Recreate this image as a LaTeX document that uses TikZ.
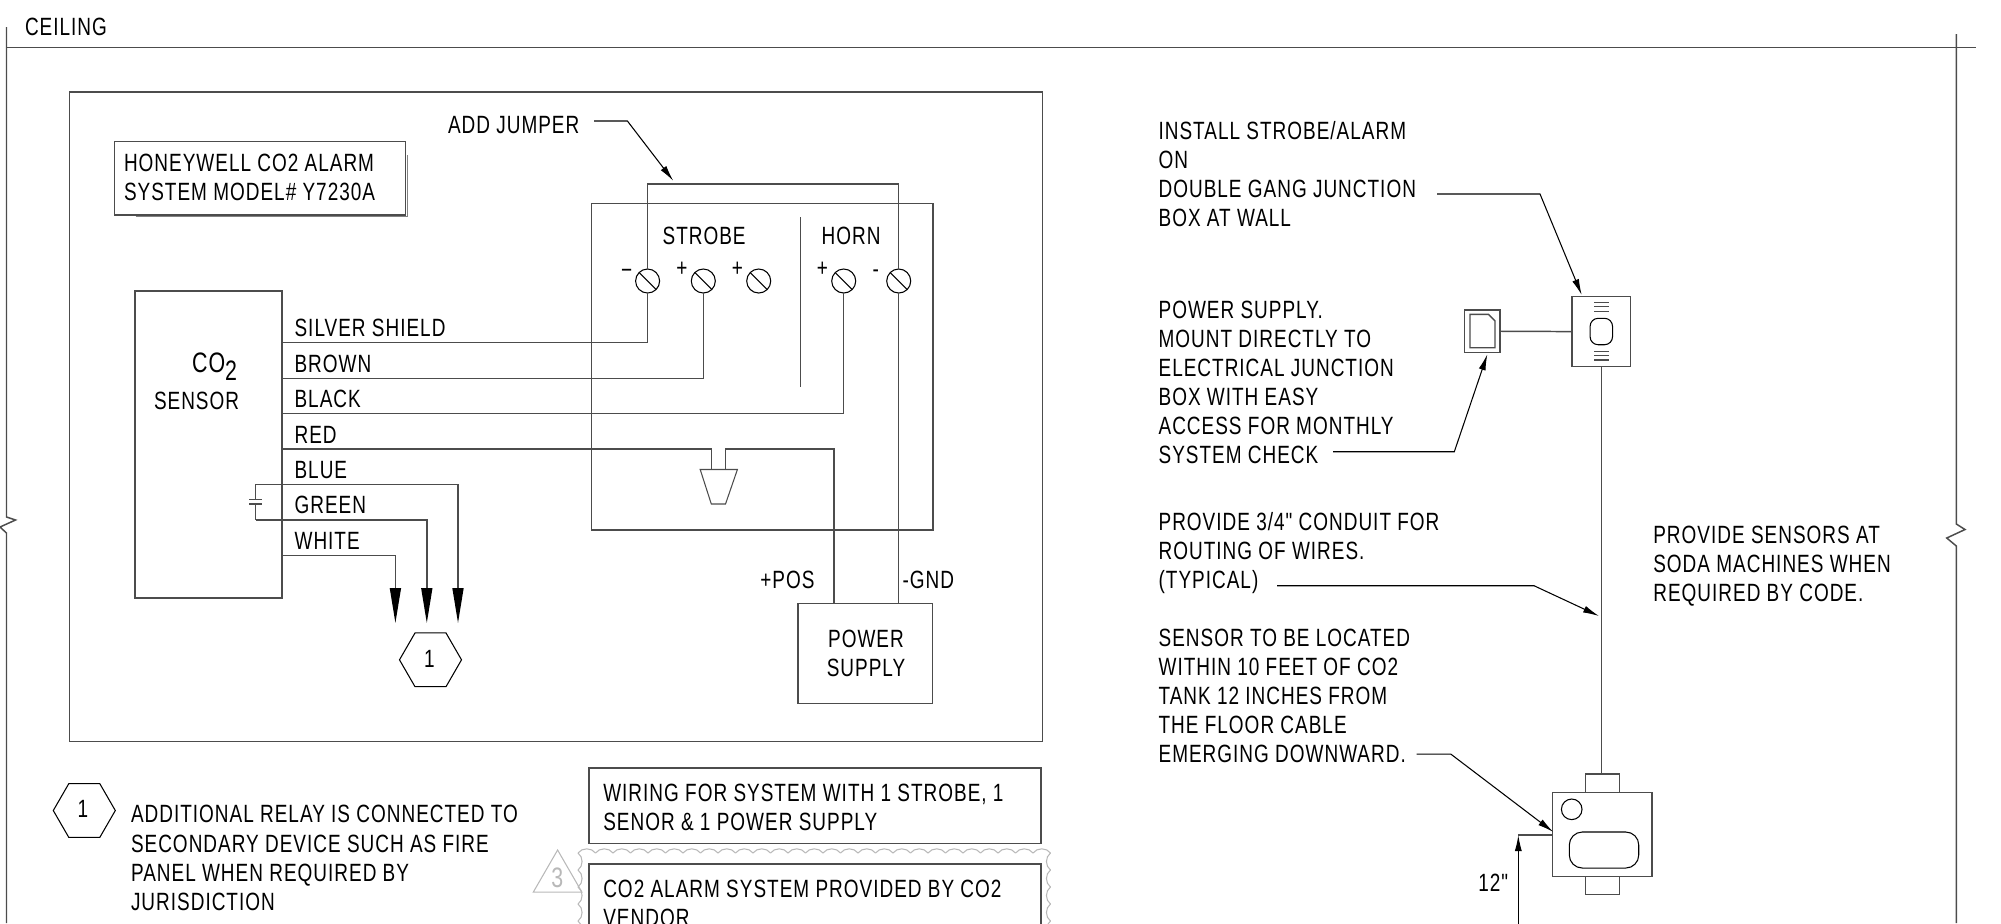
\documentclass[tikz,border=0pt]{standalone}
\usepackage{fontspec}
\setmainfont[FakeStretch=0.76,LetterSpace=4,Ligatures=TeXOff]{Liberation Sans}
\usepackage{tikz}
\usetikzlibrary{shapes, arrows.meta, positioning, calc}
\newcommand{\dwgfont}{\fontsize{7.1}{8.25}\selectfont}
\definecolor{dwgline}{gray}{0.3}
\definecolor{dwgfade}{gray}{0.72}
\tikzstyle{wire} = [draw=dwgline, line width=0.42pt]
\tikzstyle{box} = [rectangle, draw=dwgline, line width=0.42pt, inner sep=0pt, outer sep=0pt]
\tikzstyle{note} = [anchor=base west, align=left, inner sep=0pt, outer sep=0pt]
\tikzstyle{screw} = [circle, draw=black, line width=0.3pt, minimum size=0.24cm, inner sep=0pt, outer sep=0pt]
\tikzstyle{hexa} = [regular polygon, regular polygon sides=6, draw=black, line width=0.3pt, minimum size=0.62cm, inner sep=0pt, outer sep=0pt]
\tikzstyle{leader} = [draw=black, line width=0.3pt, -{Latex[length=0.16cm,width=0.07cm]}]
\tikzstyle{drop} = [wire, -{Triangle[length=0.35cm,width=0.11cm,color=black]}]
\tikzstyle{cloudline} = [draw=dwgfade, line width=0.3pt]

\begin{document}
\begin{tikzpicture}[x=0.01cm, y=-0.01cm, every node/.style={font=\dwgfont}]
\useasboundingbox (0,0) rectangle (2001,923);
\clip (0,0) rectangle (2001,923);
% room
\coordinate (ceilL) at (6.5,47.5);
\coordinate (ceilR) at (1976,47.5);
\draw[wire, line width=0.55pt] (ceilL) -- (ceilR);
\draw[wire] (6.5,27) -- (6.5,517) -- (15.5,520) -- (0,527) -- (6.5,533) -- (6.5,923);
\draw[wire] (1956.3,34) -- (1956.3,524) -- (1965,529.5) -- (1946.7,538) -- (1956.3,546) -- (1956.3,923);
\node (ceiling) [note] at (25,35) {CEILING};
% wiring frame
\node (frame) [box, minimum width=9.72cm, minimum height=6.49cm] at (556,416.75) {};
\draw[wire, draw=dwgline!70] (135.7,216.7) -- (407.5,216.7) -- (407.5,155);
\node (modelbox) [box, fill=white, minimum width=2.91cm, minimum height=0.735cm] at (260.15,178.35) {};
\node (model) [note] at (124,200) {HONEYWELL CO2 ALARM\\SYSTEM MODEL\# Y7230A};
% sensor
\node (sensor) [box, minimum width=1.47cm, minimum height=3.064cm] at (208.5,444.5) {};
\node (co) [note] at (192,372) {\fontsize{8}{9}\selectfont CO\raisebox{-0.08cm}{2}};
\node (sensortxt) [note] at (154,409) {SENSOR};
\foreach \wname/\wtext/\wy in {silver/SILVER SHIELD/342.7, brown/BROWN/378.3, black/BLACK/413.5, red/RED/449, white/WHITE/555.3} {
  \coordinate (\wname) at (282,\wy);
  \node (\wname txt) [note] at (294.6,\wy-6) {\wtext};
}
\coordinate (blue) at (255.7,484.3);
\coordinate (green) at (255.7,520);
\node (bluetxt) [note] at (294.6,478.3) {BLUE};
\node (greentxt) [note] at (294.6,513.5) {GREEN};
% strobe / horn
\node (alarm) [box, minimum width=3.413cm, minimum height=3.266cm] at (762.05,366.8) {};
\node (strobetxt) [note] at (662.6,244.8) {STROBE};
\node (horntxt) [note] at (821.6,244.8) {HORN};
\foreach \tname/\tx in {termA/647.6, termB/703.3, termC/758.7, termD/843.7, termE/898.7} {
  \node (\tname) [screw] at (\tx,281) {};
  \draw[line width=0.3pt] (\tname.north west) -- (\tname.south east);
}
\node (minusA) [note, anchor=base] at (626.6,278) {\textminus};
\node (plusB) [note, anchor=base] at (682,276) {+};
\node (plusC) [note, anchor=base] at (737.4,276) {+};
\node (plusD) [note, anchor=base] at (822.4,276) {+};
\node (minusE) [note, anchor=base] at (875.7,277) {-};
\coordinate (divtop) at (800.6,217.4);
\coordinate (divbot) at (800.6,386.6);
\draw[wire] (divtop) -- (divbot);
\coordinate (jumper) at (700,183.8);
\draw[wire] (termA) -- (termA |- jumper) -- (termE |- jumper) -- (termE);
% horn symbol
\coordinate (hornL) at (711.3,469.5);
\coordinate (hornR) at (725.3,469.5);
\draw[line width=0.3pt, draw=dwgline] (700.2,469.5) -- (737.4,469.5) -- (725.5,504) -- (711.3,504) -- cycle;
% power supply
\node (power) [box, minimum width=1.349cm, minimum height=1.0cm] at (865.25,653.4) {};
\node (powertxt) [note, anchor=base, align=center] at (866,676.6) {POWER\\SUPPLY};
\node (postxt) [note] at (760.3,588) {+POS};
\node (gndtxt) [note] at (902.6,588) {-GND};
% wires
\draw[wire] (silver) -| (termA);
\draw[wire] (brown) -| (termB);
\draw[wire] (black) -| (termD);
\draw[wire] (red) -| (hornL);
\coordinate (poswire) at (834.2,603);
\draw[wire] (hornR) |- (poswire |- red) -- (poswire);
\coordinate (gndwire) at (898.7,603);
\draw[wire] (termE) -- (gndwire);
% relay outputs
\node (relay) [hexa] at (430.5,659.8) {};
\node (relaytxt) [anchor=center, inner sep=0pt] at (429.3,659) {1};
\coordinate (capA) at (255.7,499.3);
\coordinate (capB) at (255.7,504);
\draw[wire] (capA) -- (blue);
\draw[wire] (capB) -- (green);
\draw[wire] (249,499.3) -- (261.8,499.3);
\draw[wire] (249,504) -- (261.8,504);
\draw[drop] (blue) -| (458,623);
\draw[drop] (green) -| (426.8,623);
\draw[drop] (white) -| (395.4,623);
% add jumper
\node (jumpertxt) [note] at (448,133.7) {ADD JUMPER};
\coordinate (jumperA) at (594,121);
\coordinate (jumperB) at (627.4,121);
\coordinate (jumperC) at (673.3,180.8);
\draw[leader] (jumperA) -- (jumperB) -- (jumperC);
% legend
\node (legendhex) [hexa] at (84.3,810.5) {};
\node (legendnum) [anchor=center, inner sep=0pt] at (83,809.3) {1};
\node (legendtxt) [note] at (131,910) {ADDITIONAL RELAY IS CONNECTED TO\\SECONDARY DEVICE SUCH AS FIRE\\PANEL WHEN REQUIRED BY\\JURISDICTION};
\node (wiringbox) [box, minimum width=4.518cm, minimum height=0.753cm] at (815.1,805.65) {};
\node (wiringtxt) [note] at (603.3,830) {WIRING FOR SYSTEM WITH 1 STROBE, 1\\SENOR \& 1 POWER SUPPLY};
% revision cloud
\foreach \i in {0,...,26} {
  \draw[cloudline] (578+\i*17.5,853) to[bend left=55] (595.5+\i*17.5,853);
}
\foreach \i in {0,...,4} {
  \draw[cloudline] (578,870+\i*17) to[bend right=55] (578,853+\i*17);
  \draw[cloudline] (1050.5,853+\i*17) to[bend right=55] (1050.5,870+\i*17);
}
\node (vendorbox) [box, minimum width=4.518cm, minimum height=1.2cm] at (815.1,924) {};
\node (vendortxt) [note] at (603.3,926) {CO2 ALARM SYSTEM PROVIDED BY CO2\\VENDOR};
\node (revision) [regular polygon, regular polygon sides=3, draw=dwgfade, line width=0.3pt, minimum size=0.56cm, inner sep=0pt] at (557.6,878) {};
\node (revisiontxt) [anchor=center, inner sep=0pt, text=dwgfade] at (557.4,878) {\fontsize{8}{9}\selectfont 3};
% strobe device
\node (strobedev) [box, minimum width=0.587cm, minimum height=0.7cm] at (1601.3,331.7) {};
\node (strobeoval) [rectangle, rounded corners=0.08cm, draw=black, line width=0.3pt, minimum width=0.224cm, minimum height=0.264cm, inner sep=0pt] at (1601.3,331.5) {};
\foreach \sy in {302.7,306.7,311.3,351.3,355.3,360} {
  \draw[line width=0.3pt, draw=dwgline] (1594,\sy) -- (1609,\sy);
}
\node (supply) [box, minimum width=0.357cm, minimum height=0.423cm] at (1482.15,331.15) {};
\draw[line width=0.4pt, draw=dwgline] (1470,314.3) -- (1488.3,314.3) -- (1495,321) -- (1495,347.7) -- (1470,347.7) -- cycle;
\draw[wire] (supply) -- (strobedev);
% sensor device
\node (sensordev) [box, minimum width=0.997cm, minimum height=0.84cm] at (1602.15,834.3) {};
\node (bracketT) [box, minimum width=0.344cm, minimum height=0.183cm] at (1602.5,783.15) {};
\node (bracketB) [box, minimum width=0.344cm, minimum height=0.18cm] at (1602.5,885.3) {};
\node (lamp) [circle, draw=black, line width=0.3pt, minimum size=0.206cm, inner sep=0pt] at (1571.7,809.3) {};
\node (display) [rectangle, rounded corners=0.13cm, draw=black, line width=0.3pt, minimum width=0.694cm, minimum height=0.36cm, inner sep=0pt] at (1604,850) {};
\draw[wire] (strobedev) -- (strobedev |- bracketT.north);
% right notes
\node (strobenote) [note] at (1158.6,226.7) {INSTALL STROBE/ALARM\\ON\\DOUBLE GANG JUNCTION\\BOX AT WALL};
\draw[leader] (1437,194) -- (1540,194) -- (1581.7,295);
\node (supplynote) [note] at (1158.6,463.6) {POWER SUPPLY.\\MOUNT DIRECTLY TO\\ELECTRICAL JUNCTION\\BOX WITH EASY\\ACCESS FOR MONTHLY\\SYSTEM CHECK};
\draw[leader] (1333,451.7) -- (1454.3,451.7) -- (1487.3,354.3);
\node (conduitnote) [note] at (1158.6,588.5) {PROVIDE 3/4" CONDUIT FOR\\ROUTING OF WIRES.\\(TYPICAL)};
\draw[leader] (1277,585.7) -- (1534,585.7) -- (1599,616);
\node (sensornote) [note] at (1158.6,762.5) {SENSOR TO BE LOCATED\\WITHIN 10 FEET OF CO2\\TANK 12 INCHES FROM\\THE FLOOR CABLE\\EMERGING DOWNWARD.};
\draw[leader] (1416.7,754) -- (1450.7,754) -- (1553.3,832);
\node (sodanote) [note] at (1653.3,601) {PROVIDE SENSORS AT\\SODA MACHINES WHEN\\REQUIRED BY CODE.};
% height dimension
\coordinate (dimbot) at (1518.3,930);
\coordinate (dimtop) at (1518.3,835);
\draw[wire] (dimtop) -- (dimtop -| sensordev.west);
\draw[leader] (dimbot) -- (dimtop);
\node (dimtxt) [note] at (1478.3,891.7) {12"};
\end{tikzpicture}
\end{document}
